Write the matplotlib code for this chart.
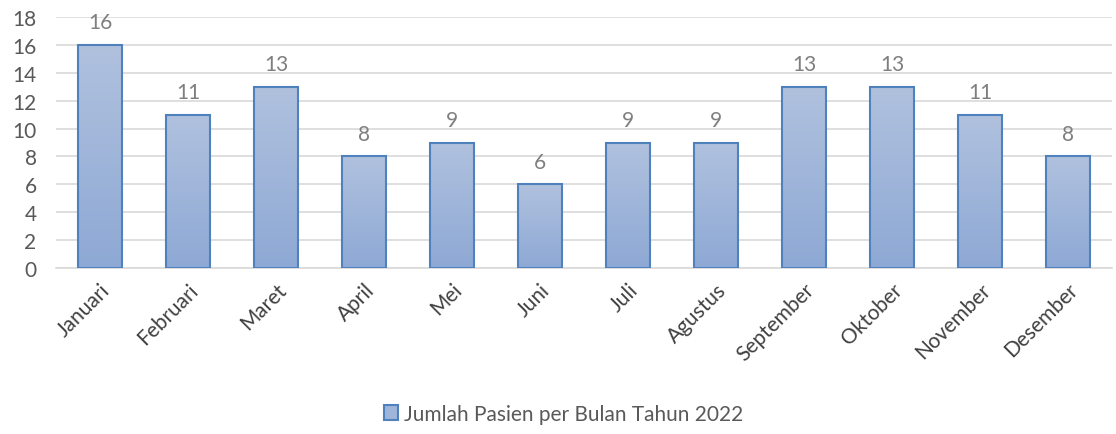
"""
jumlah pasien per bulan tahun 2022
"""

import matplotlib.pyplot as plt
import numpy as np
from matplotlib.colors import LinearSegmentedColormap
from matplotlib.patches import Patch

months = ["Januari", "Februari", "Maret", "April", "Mei", "Juni", "Juli",
          "Agustus", "September", "Oktober", "November", "Desember"]
patients = [16, 11, 13, 8, 9, 6, 9, 9, 13, 13, 11, 8]
yticks = [0, 2, 4, 6, 8, 10, 12, 14, 16, 18]

plt.rcParams["font.family"] = ["Lato", "DejaVu Sans"]
grey = "#595959"
edge = "#4f81bd"
grad = LinearSegmentedColormap.from_list("g", ["#8ea9d5", "#b0c1de"])

fig = plt.figure(figsize=(11.16, 4.35), dpi=100)
ax = fig.add_axes([0.0502, 0.3816, 0.9462, 0.577])

x = np.arange(len(months))
bars = ax.bar(x, patients, width=0.5, color="none", edgecolor=edge,
              linewidth=1.5, zorder=3)

# vertical gradient inside each bar
for b in bars:
    x0, y0 = b.get_x(), b.get_y()
    w, h = b.get_width(), b.get_height()
    im = ax.imshow(np.linspace(0, 1, 100).reshape(-1, 1), cmap=grad,
                   extent=[x0, x0 + w, y0, y0 + h], origin="lower",
                   aspect="auto", zorder=2)
    im.set_clip_path(b)

for xi, v in zip(x, patients):
    ax.text(xi, v + 0.9, str(v), ha="center", va="bottom",
            fontsize=15, color="#7f7f7f")

ax.set_xlim(-0.5, len(months) - 0.5)
ax.set_ylim(0, 18)
ax.set_yticks(yticks)
ax.set_xticks(x)
ax.set_xticklabels(months, rotation=45, ha="right", rotation_mode="anchor")
ax.tick_params(axis="both", length=0, labelsize=15, labelcolor=grey)
ax.tick_params(axis="x", labelcolor="#404040")
ax.tick_params(axis="y", pad=14)
ax.tick_params(axis="x", pad=8)
ax.grid(axis="y", color="#d9d9d9", linewidth=1.2, zorder=0)
ax.set_axisbelow(True)
for s in ["top", "right", "left"]:
    ax.spines[s].set_visible(False)
ax.spines["bottom"].set_color("#d9d9d9")
ax.spines["bottom"].set_linewidth(1.2)

handle = Patch(facecolor="#9fb5da", edgecolor=edge, linewidth=1.5)
fig.legend([handle], ["Jumlah Pasien per Bulan Tahun 2022"],
           loc="center", bbox_to_anchor=(0.505, 0.047), frameon=False,
           fontsize=15, labelcolor=grey, handlelength=0.7, handleheight=0.7,
           handletextpad=0.3)

fig.savefig("out.png", dpi=100)
